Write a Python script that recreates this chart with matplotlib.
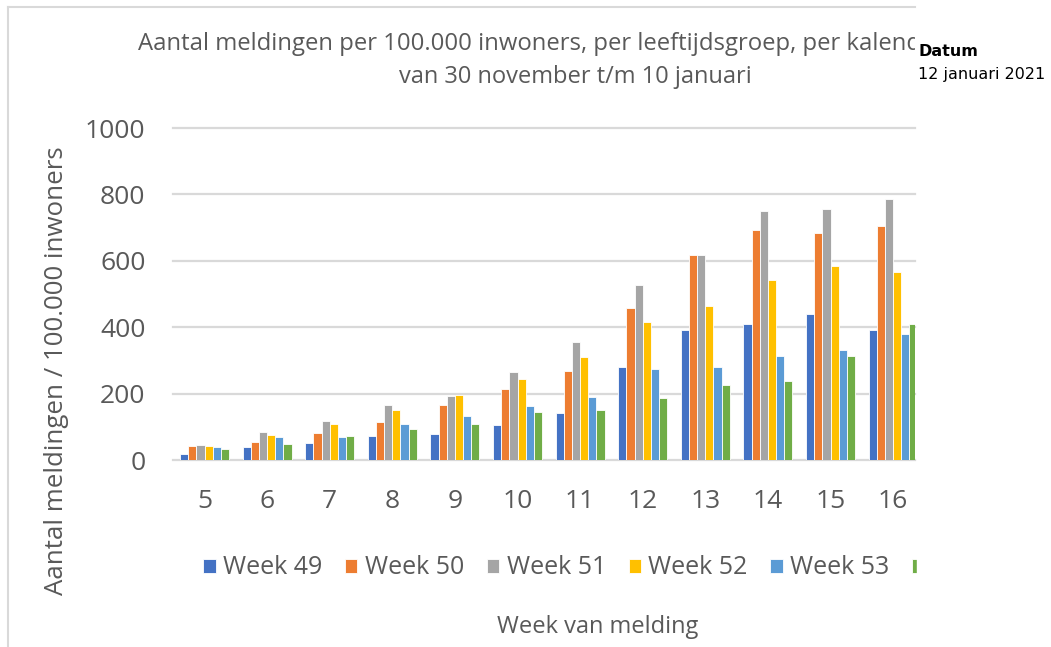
import matplotlib.pyplot as plt
import numpy as np
from matplotlib.patches import Rectangle
from matplotlib.lines import Line2D
from matplotlib.transforms import Bbox

plt.rcParams['font.family'] = ['Open Sans', 'DejaVu Sans']

# leeftijdsgroep (x-as) en meldingen per week van melding
groups = ['5', '6', '7', '8', '9', '10', '11', '12', '13', '14', '15', '16']
series_names = ['Week 49', 'Week 50', 'Week 51', 'Week 52', 'Week 53', 'Week 1']
week49 = [17, 39, 51, 71, 77, 104, 142, 280, 391, 409, 439, 392]
week50 = [43, 53, 81, 114, 167, 213, 268, 458, 617, 692, 685, 706]
week51 = [45, 85, 117, 165, 193, 264, 356, 527, 618, 751, 756, 787]
week52 = [41, 76, 108, 151, 196, 244, 310, 416, 465, 542, 584, 565]
week53 = [38, 68, 68, 108, 133, 163, 189, 273, 280, 314, 331, 379]
week1 = [33, 47, 72, 93, 108, 146, 151, 187, 226, 239, 314, 409]
yticks = [0, 200, 400, 600, 800, 1000]

colors = ['#4472C4', '#ED7D31', '#A5A5A5', '#FFC000', '#5B9BD5', '#70AD47']
text_col = '#595959'
grid_col = '#D9D9D9'

W, H = 1051, 647
CUT = 915  # screenshot is cut off at this x
fig = plt.figure(figsize=(W / 100, H / 100), dpi=100)
ax = fig.add_axes([173.2 / W, 1 - 460 / H, (CUT - 173.2) / W, (460 - 128) / H])

x = np.arange(len(groups))
bw = 0.13
all_series = [week49, week50, week51, week52, week53, week1]
for i, (vals, name) in enumerate(zip(all_series, series_names)):
    ax.bar(x + (i - 2.5) * bw, vals, bw, color=colors[i], label=name,
           edgecolor='white', linewidth=0.6, zorder=3)

ax.set_xlim(-0.5, (CUT - 173.2) / 62.6 - 0.5)
ax.set_ylim(0, 1000)
ax.set_yticks(yticks)
ax.set_xticks(x)
ax.set_xticklabels(groups)
ax.tick_params(length=0, colors=text_col, labelsize=19)
ax.tick_params(axis='y', pad=20)
ax.tick_params(axis='x', pad=21)
ax.grid(axis='y', color=grid_col, linewidth=1.6)
for gl in ax.get_ygridlines():
    gl.set_clip_on(False)
ax.set_axisbelow(True)
for s in ax.spines.values():
    s.set_visible(False)

leg = ax.legend(loc='center left', bbox_to_anchor=(203 / W, 1 - 568 / H),
                bbox_transform=fig.transFigure, ncol=6, frameon=False,
                fontsize=18, handlelength=0.5, handleheight=0.5,
                handletextpad=0.3, columnspacing=0.9, borderpad=0,
                borderaxespad=0)
for t in leg.get_texts():
    t.set_color(text_col)

# legend is cut off on the right as well
fig.add_artist(Rectangle((917 / W, 1 - 590 / H), (W - 917) / W, 50 / H,
                         transform=fig.transFigure, color='white', zorder=5))

clip = Bbox([[0, 0], [CUT, H]])
t1 = fig.text(138 / W, 1 - 44 / H,
              'Aantal meldingen per 100.000 inwoners, per leeftijdsgroep, per kalend',
              ha='left', va='center', fontsize=17.2, color=text_col)
t1.set_clip_box(clip)
t1.set_clip_on(True)
fig.text(575 / W, 1 - 77 / H, 'van 30 november t/m 10 januari',
         ha='center', va='center', fontsize=17, color=text_col)

fig.text(918 / W, 1 - 52 / H, 'Datum', fontsize=11.5, fontweight='bold',
         family='DejaVu Sans', ha='left', va='center', color='black', zorder=10)
fig.text(918 / W, 1 - 75 / H, '12 januari 2021', fontsize=11.5,
         family='DejaVu Sans', ha='left', va='center', color='black', zorder=10)

fig.text(57 / W, 1 - 371 / H, 'Aantal meldingen / 100.000 inwoners',
         rotation=90, ha='center', va='center', fontsize=18.6, color=text_col)
fig.text(598 / W, 1 - 627 / H, 'Week van melding', ha='center', va='center',
         fontsize=17, color=text_col)

# frame
fig.add_artist(Line2D([8 / W, 8 / W], [0, 1 - 7 / H], transform=fig.transFigure,
                      color=grid_col, linewidth=1.5))
fig.add_artist(Line2D([8 / W, CUT / W], [1 - 7 / H, 1 - 7 / H],
                      transform=fig.transFigure, color=grid_col, linewidth=1.5))

fig.savefig('out.png', dpi=100)
